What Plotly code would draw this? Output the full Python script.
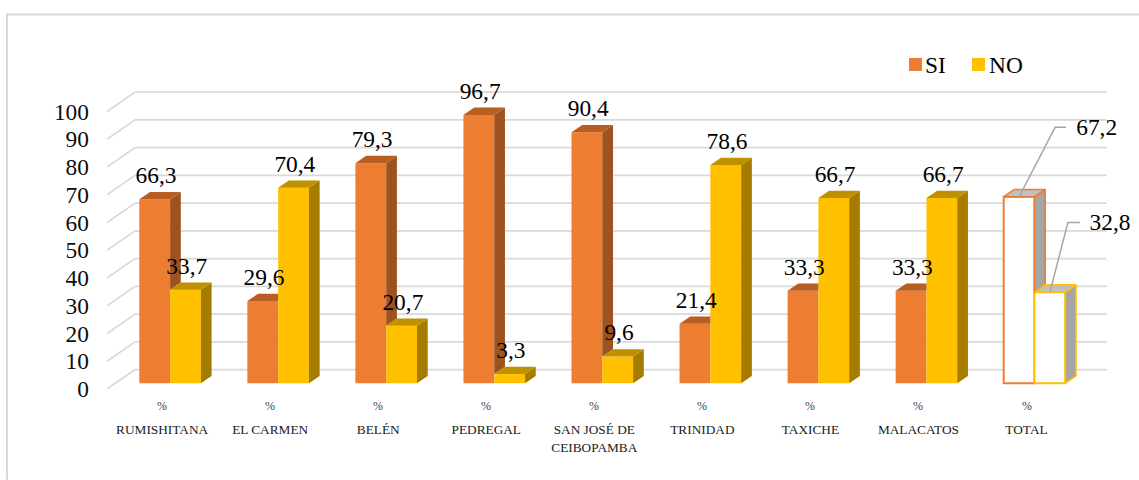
import plotly.graph_objects as go

categories = ['RUMISHITANA', 'EL CARMEN', 'BELÉN', 'PEDREGAL', 'SAN JOSÉ DE<br>CEIBOPAMBA',
              'TRINIDAD', 'TAXICHE', 'MALACATOS', 'TOTAL']
si_values = [66.3, 29.6, 79.3, 96.7, 90.4, 21.4, 33.3, 33.3, 67.2]
no_values = [33.7, 70.4, 20.7, 3.3, 9.6, 78.6, 66.7, 66.7, 32.8]
y_ticks = [0, 10, 20, 30, 40, 50, 60, 70, 80, 90, 100]

ORANGE, ORANGE_SIDE, ORANGE_TOP = '#ED7D31', '#9E521F', '#B85E22'
YELLOW, YELLOW_SIDE, YELLOW_TOP = '#FFC000', '#A67C00', '#BF9000'
GREY_SIDE, GREY_TOP = '#A5A5A5', '#C0C0C0'
GRID = '#D9D9D9'
FONT = 'Liberation Serif'

# page scale of the axes, in pixels
PX_PER_CAT = 108.05
PX_PER_UNIT = 2.777
LEFT, BOTTOM, WIDTH, HEIGHT = 107, 389.3, 1139, 480
CAT0_PX = 170.1

BAR_W = 30.8 / PX_PER_CAT
DEPTH_X = 10.7 / PX_PER_CAT
DEPTH_Y = 7.3 / PX_PER_UNIT
BAR_BASE = 5.8 / PX_PER_UNIT
WALL_X0 = (135 - CAT0_PX) / PX_PER_CAT
WALL_X1 = (1106.7 - CAT0_PX) / PX_PER_CAT
WALL_Y = 19.4 / PX_PER_UNIT
LABEL_GAP = 22 / PX_PER_UNIT
TICK_SHIFT = 8 / PX_PER_CAT

x_pos = list(range(len(categories)))
last = len(categories) - 1


def paper_x(px):
    return (px - LEFT) / (WIDTH - LEFT)


def paper_y(px):
    return (BOTTOM - px) / BOTTOM


def data_x(px):
    return (px - CAT0_PX) / PX_PER_CAT


def data_y(px):
    return (BOTTOM - px) / PX_PER_UNIT


def fmt(v):
    return f'{v:.1f}'.replace('.', ',')


def poly(points):
    xs, ys = [], []
    for p_x, p_y in points:
        xs.append(p_x)
        ys.append(p_y)
    xs += [xs[0], None]
    ys += [ys[0], None]
    return xs, ys


def face_trace(faces, fill, line=None):
    xs, ys = [], []
    for pts in faces:
        a, b = poly(pts)
        xs += a
        ys += b
    return go.Scatter(x=xs, y=ys, mode='lines', fill='toself', fillcolor=fill,
                      line=dict(color=line or fill, width=1.6 if line else 0),
                      showlegend=False, hoverinfo='skip')


def si_faces(i):
    x0, x1 = i - BAR_W, i
    top = si_values[i] + BAR_BASE
    no_top = no_values[i] + BAR_BASE
    if no_top >= top:
        # the NO bar hides the side and the right part of the top
        t = [(x0, top), (x0 + DEPTH_X, top + DEPTH_Y), (x1, top + DEPTH_Y), (x1, top)]
        return t, None
    t = [(x0, top), (x0 + DEPTH_X, top + DEPTH_Y), (x1 + DEPTH_X, top + DEPTH_Y), (x1, top)]
    s = [(x1, top), (x1 + DEPTH_X, top + DEPTH_Y), (x1 + DEPTH_X, no_top + DEPTH_Y), (x1, no_top)]
    return t, s


def no_faces(i):
    x0, x1 = i, i + BAR_W
    top = no_values[i] + BAR_BASE
    t = [(x0, top), (x0 + DEPTH_X, top + DEPTH_Y), (x1 + DEPTH_X, top + DEPTH_Y), (x1, top)]
    s = [(x1, top), (x1 + DEPTH_X, top + DEPTH_Y), (x1 + DEPTH_X, BAR_BASE + DEPTH_Y), (x1, BAR_BASE)]
    return t, s


fig = go.Figure()

fig.add_trace(go.Bar(x=x_pos, y=si_values, base=BAR_BASE, name='SI', width=BAR_W, offset=-BAR_W,
                     showlegend=False,
                     marker=dict(color=[ORANGE] * last + ['white'],
                                 line=dict(color=ORANGE, width=[0] * last + [2]))))
fig.add_trace(go.Bar(x=x_pos, y=no_values, base=BAR_BASE, name='NO', width=BAR_W, offset=0,
                     showlegend=False,
                     marker=dict(color=[YELLOW] * last + ['white'],
                                 line=dict(color=YELLOW, width=[0] * last + [2]))))

si_f = [si_faces(i) for i in x_pos]
no_f = [no_faces(i) for i in x_pos]
fig.add_trace(face_trace([f[1] for f in si_f[:last] if f[1]], ORANGE_SIDE))
fig.add_trace(face_trace([f[0] for f in si_f[:last]], ORANGE_TOP))
fig.add_trace(face_trace([f[1] for f in no_f[:last]], YELLOW_SIDE))
fig.add_trace(face_trace([f[0] for f in no_f[:last]], YELLOW_TOP))
fig.add_trace(face_trace([si_f[last][1]], GREY_SIDE, ORANGE))
fig.add_trace(face_trace([si_f[last][0]], GREY_TOP, ORANGE))
fig.add_trace(face_trace([no_f[last][1]], GREY_SIDE, YELLOW))
fig.add_trace(face_trace([no_f[last][0]], GREY_TOP, YELLOW))

# value labels sit above each bar, TOTAL has leader lines instead
label_x = [i - BAR_W / 2 + 1.3 / PX_PER_CAT for i in x_pos[:last]] + [i + BAR_W / 2 + 1.3 / PX_PER_CAT for i in x_pos[:last]]
label_y = [v + BAR_BASE + LABEL_GAP for v in si_values[:last] + no_values[:last]]
label_text = [fmt(v) for v in si_values[:last] + no_values[:last]]

total_px = CAT0_PX + last * PX_PER_CAT
leaders = [(total_px - 15.4, si_values[last], 36, 69.5, 11, 1096.7),
           (total_px + 15.4, no_values[last], 18, 69.7, 12, 1110)]
lead_x, lead_y = [], []
for start_px, val, run, rise, tail, text_px in leaders:
    top = val + BAR_BASE
    lead_x += [data_x(start_px), data_x(start_px + run), data_x(start_px + run + tail), None]
    lead_y += [top, top + rise / PX_PER_UNIT, top + rise / PX_PER_UNIT, None]
    label_x.append(data_x(text_px))
    label_y.append(top + (rise - 2) / PX_PER_UNIT)
    label_text.append(fmt(val))

fig.add_trace(go.Scatter(x=lead_x, y=lead_y, mode='lines', line=dict(color='#A6A6A6', width=1.5),
                         showlegend=False, hoverinfo='skip', cliponaxis=False))
fig.add_trace(go.Scatter(x=label_x, y=label_y, mode='text', text=label_text, textposition='middle center',
                         textfont=dict(family=FONT, size=23.4, color='black'),
                         showlegend=False, hoverinfo='skip', cliponaxis=False))

# legend: text sits closer to the swatch than the built-in legend allows
for name, color, swatch_px, text_px in [('SI', ORANGE, 915.5, 925), ('NO', YELLOW, 978.5, 989)]:
    fig.add_trace(go.Scatter(x=[data_x(swatch_px)], y=[data_y(64.5)], mode='markers', name=name,
                             marker=dict(symbol='square', size=13, color=color),
                             showlegend=False, hoverinfo='skip', cliponaxis=False))
    fig.add_trace(go.Scatter(x=[data_x(text_px)], y=[data_y(67)], mode='text', text=[name],
                             textposition='middle right',
                             textfont=dict(family=FONT, size=23.4, color='black'),
                             showlegend=False, hoverinfo='skip', cliponaxis=False))

# the % row under the bars
annotations = [dict(x=i - TICK_SHIFT, y=paper_y(406.7), xref='x', yref='paper', text='%', showarrow=False,
                    xanchor='center', yanchor='middle',
                    font=dict(family=FONT, size=12, color='#404040')) for i in x_pos]

# gridlines: floor edge, then back wall
shapes = []
for t in y_ticks:
    shapes.append(dict(type='line', layer='below', xref='x', yref='y',
                       x0=data_x(LEFT), y0=t, x1=WALL_X0, y1=t + WALL_Y,
                       line=dict(color=GRID, width=1.8)))
    shapes.append(dict(type='line', layer='below', xref='x', yref='y',
                       x0=WALL_X0, y0=t + WALL_Y, x1=WALL_X1, y1=t + WALL_Y,
                       line=dict(color=GRID, width=1.8)))

# chart frame, only top and left are in the picture
shapes.append(dict(type='line', xref='paper', yref='paper', x0=paper_x(6), y0=paper_y(14.5),
                   x1=paper_x(WIDTH), y1=paper_y(14.5), line=dict(color=GRID, width=2)))
shapes.append(dict(type='line', xref='paper', yref='paper', x0=paper_x(7), y0=paper_y(14),
                   x1=paper_x(7), y1=paper_y(HEIGHT), line=dict(color=GRID, width=2)))

fig.update_layout(
    template='none', width=WIDTH, height=HEIGHT, barmode='overlay', showlegend=False,
    margin=dict(l=LEFT, r=0, t=0, b=HEIGHT - BOTTOM, pad=0),
    paper_bgcolor='white', plot_bgcolor='white', shapes=shapes, annotations=annotations,
    font=dict(family=FONT),
)
fig.update_xaxes(range=[data_x(LEFT), data_x(WIDTH)],
                 tickmode='array', tickvals=[i - TICK_SHIFT for i in x_pos], ticktext=categories,
                 tickfont=dict(family=FONT, size=13.3, color='#1A1A1A'), tickangle=0,
                 showgrid=False, zeroline=False, showline=False, ticks='', ticklabelstandoff=31)
fig.update_yaxes(range=[0, BOTTOM / PX_PER_UNIT], tickmode='array', tickvals=y_ticks,
                 tickfont=dict(family=FONT, size=23.4, color='#0D0D0D'),
                 showgrid=False, zeroline=False, showline=False, ticks='', ticklabelstandoff=17)

# the page margin would push the fixed-size figure off the window
fig.write_html("out.html", config=dict(displayModeBar=False),
               post_script="document.body.style.margin='0';")
